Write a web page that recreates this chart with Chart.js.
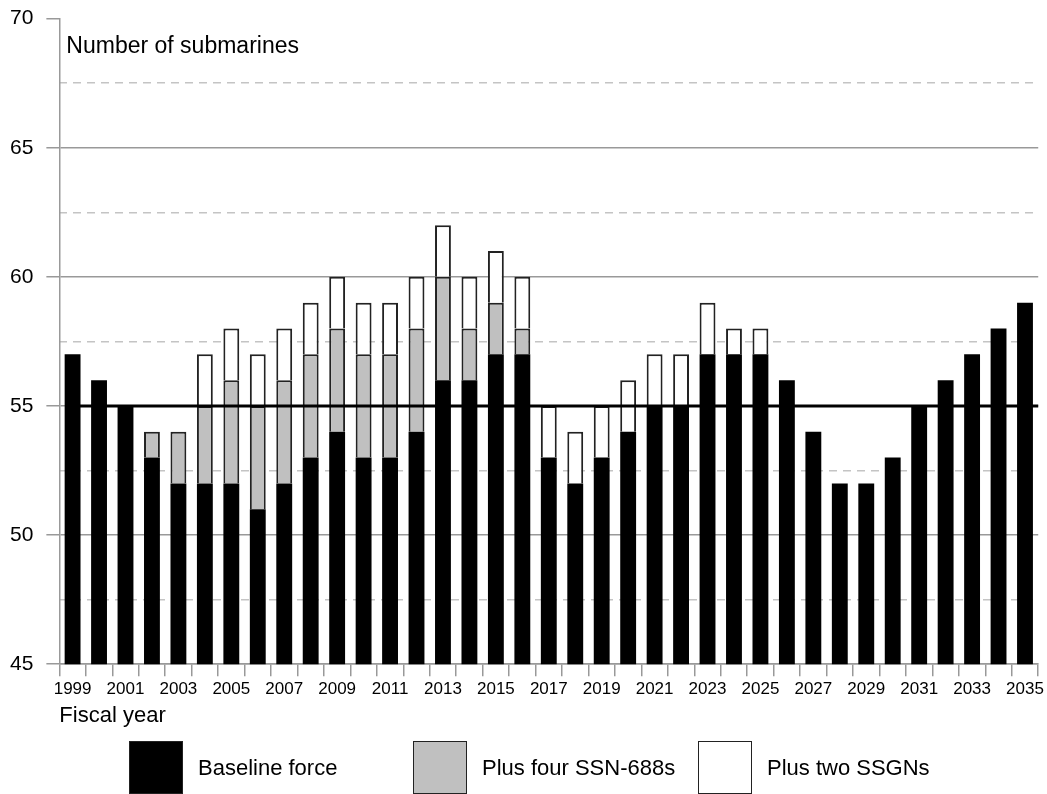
<!DOCTYPE html>
<html>
<head>
<meta charset="utf-8">
<script src="https://cdn.jsdelivr.net/npm/chart.js@4"></script>
<style>
  body { margin: 0; background: #fff; overflow: hidden; }
  #wrap { position: relative; width: 1047px; height: 794px; overflow: hidden; }
  #chart { position: absolute; left: 0; top: -7px; }
  #legend { position: absolute; left: 0; top: 741px; width: 1047px; height: 53px;
    font-family: "Liberation Sans", Arial, sans-serif; font-size: 22px; color: #000; }
  .item { position: absolute; top: 0; display: flex; align-items: center; height: 53px; white-space: nowrap; }
  .box { width: 54px; height: 53px; box-sizing: border-box; margin-right: 15px; }
</style>
</head>
<body>
<div id="wrap">
  <canvas id="chart" width="1047" height="801"></canvas>
  <div id="legend"></div>
</div>
<script>
// Fiscal years on the x axis
const years = [];
for (let y = 1999; y <= 2035; y++) years.push(String(y));

// Baseline force (black part of each bar)
const baseline = [57, 56, 55, 53, 52, 52, 52, 51, 52, 53, 54, 53, 53, 54, 56, 56, 57, 57,
  53, 52, 53, 54, 55, 55, 57, 57, 57, 56, 54, 52, 52, 53, 55, 56, 57, 58, 59];

// Extra boats from keeping four SSN-688s (grey part)
const plusSsn688 = [0, 0, 0, 1, 2, 3, 4, 4, 4, 4, 4, 4, 4, 4, 4, 2, 2, 1,
  0, 0, 0, 0, 0, 0, 0, 0, 0, 0, 0, 0, 0, 0, 0, 0, 0, 0, 0];

// Extra boats from two SSGNs (white part)
const plusSsgn = [0, 0, 0, 0, 0, 2, 2, 2, 2, 2, 2, 2, 2, 2, 2, 2, 2, 2,
  2, 2, 2, 2, 2, 2, 2, 1, 1, 0, 0, 0, 0, 0, 0, 0, 0, 0, 0];

const yTicks = [45, 50, 55, 60, 65, 70];
const forceGoal = 55;

const seriesLabels = ['Baseline force', 'Plus four SSN-688s', 'Plus two SSGNs'];
const legendLeft = [129, 413, 698];

const font = '"Liberation Sans", Arial, sans-serif';

// Thick line for the 55-boat goal, drawn on top of the bars
const goalLine = {
  id: 'goalLine',
  afterDatasetsDraw(chart) {
    const ctx = chart.ctx;
    const y = chart.scales.y.getPixelForValue(forceGoal);
    const x0 = chart.scales.x.getPixelForValue(0);
    ctx.save();
    ctx.strokeStyle = '#000';
    ctx.lineWidth = 3;
    ctx.beginPath();
    ctx.moveTo(x0, y);
    ctx.lineTo(chart.chartArea.right, y);
    ctx.stroke();
    ctx.restore();
  }
};

// Y axis caption sits inside the plot, top left
const yCaption = {
  id: 'yCaption',
  afterDraw(chart) {
    const ctx = chart.ctx;
    ctx.save();
    ctx.font = '23px ' + font;
    ctx.fillStyle = '#000';
    ctx.textBaseline = 'middle';
    ctx.fillText('Number of submarines', chart.chartArea.left + 7, chart.chartArea.top + 28);
    ctx.restore();
  }
};

const chart = new Chart(document.getElementById('chart'), {
  type: 'bar',
  data: {
    labels: years,
    datasets: [
      {
        label: seriesLabels[0],
        data: baseline,
        backgroundColor: '#000',
        borderWidth: 0
      },
      {
        label: seriesLabels[1],
        data: plusSsn688.map(v => v || null),
        backgroundColor: '#c0c0c0',
        borderColor: '#222',
        borderWidth: 2
      },
      {
        label: seriesLabels[2],
        data: plusSsgn.map(v => v || null),
        backgroundColor: '#fff',
        borderColor: '#222',
        borderWidth: 2
      }
    ]
  },
  options: {
    responsive: false,
    animation: false,
    layout: { padding: { left: -3, right: 7, top: 0, bottom: 65 } },
    datasets: { bar: { barPercentage: 0.6, categoryPercentage: 1 } },
    scales: {
      x: {
        stacked: true,
        grid: { drawOnChartArea: false, color: '#999', lineWidth: 1.5, tickLength: 12 },
        border: { color: '#999', width: 1.5 },
        ticks: {
          autoSkip: false,
          maxRotation: 0,
          padding: 3,
          color: '#000',
          font: { family: font, size: 17 },
          callback: (v, i) => (i % 2 === 0 ? years[i] : '')
        },
        title: {
          display: true,
          text: 'Fiscal year',
          align: 'start',
          color: '#000',
          font: { family: font, size: 22 },
          padding: { top: 0, bottom: 0 }
        }
      },
      y: {
        stacked: true,
        min: 45,
        max: 70,
        afterBuildTicks: (axis) => { axis.ticks = yTicks.map(v => ({ value: v })); },
        grid: {
          color: (ctx) => (ctx.tick && ctx.tick.value === 70 ? 'rgba(0,0,0,0)' : '#999'),
          tickColor: '#999',
          lineWidth: 1.5,
          tickLength: 13
        },
        border: { color: '#999', width: 1.5 },
        ticks: { color: '#000', padding: 13, font: { family: font, size: 21 } }
      },
      yDash: {
        position: 'left',
        min: 45,
        max: 70,
        ticks: { display: false, stepSize: 2.5 },
        grid: {
          drawTicks: false,
          lineWidth: 1.5,
          color: (ctx) => (ctx.tick && ctx.tick.value % 5 === 0 ? 'rgba(0,0,0,0)' : '#c4c4c4')
        },
        border: { display: false, dash: [8, 6] }
      }
    },
    plugins: {
      legend: { display: false },
      tooltip: { enabled: false }
    }
  },
  plugins: [goalLine, yCaption]
});

// HTML legend built from the datasets
const legend = document.getElementById('legend');
chart.data.datasets.forEach((ds, i) => {
  const item = document.createElement('div');
  item.className = 'item';
  item.style.left = legendLeft[i] + 'px';
  const box = document.createElement('div');
  box.className = 'box';
  box.style.background = ds.backgroundColor;
  box.style.border = '1.5px solid #222';
  const text = document.createElement('span');
  text.textContent = ds.label;
  item.appendChild(box);
  item.appendChild(text);
  legend.appendChild(item);
});
</script>
</body>
</html>
